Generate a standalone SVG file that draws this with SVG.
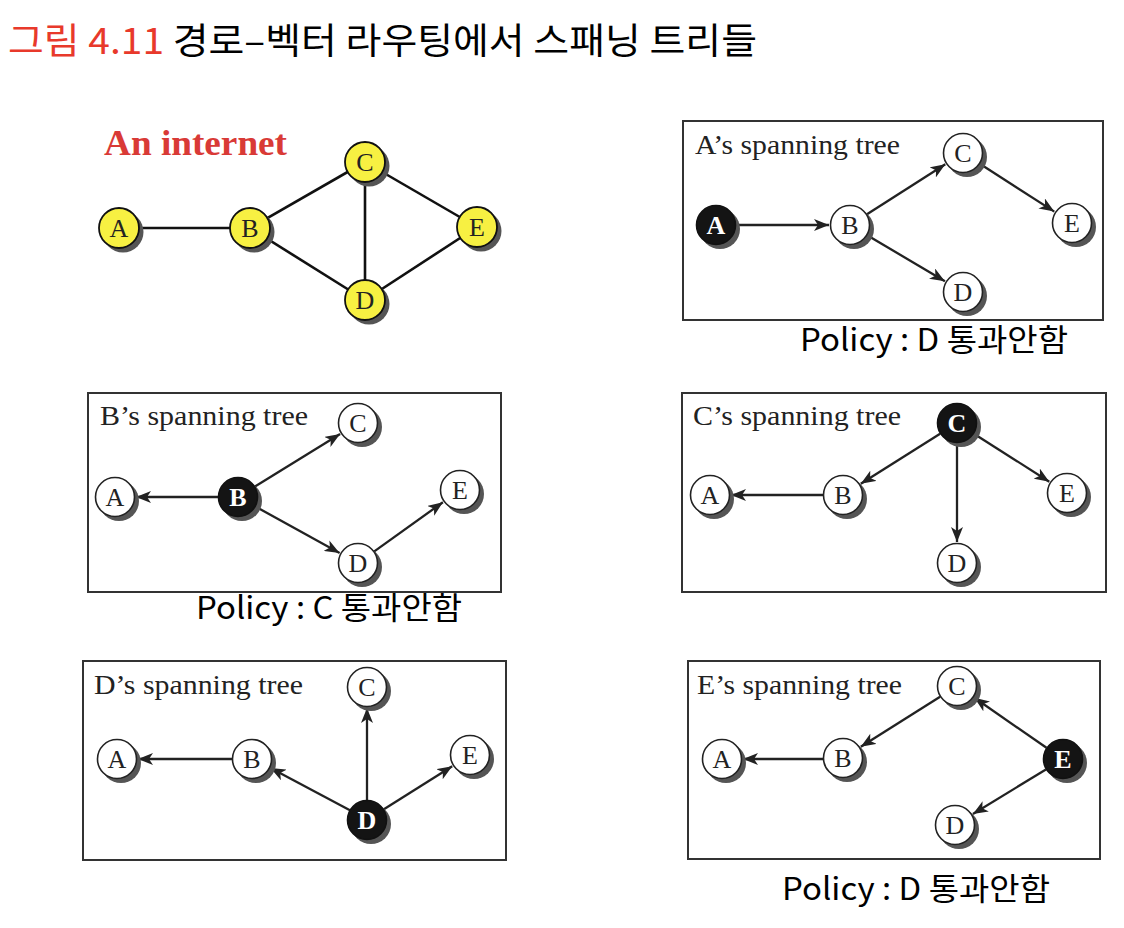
<svg xmlns="http://www.w3.org/2000/svg" width="1124" height="928" viewBox="0 0 1124 928">
<style>
.title{font-family:"Noto Sans CJK KR","Noto Sans",sans-serif;font-size:36px}
.policy{font-family:"Noto Sans CJK KR","Noto Sans",sans-serif;font-size:31px;fill:#000}
.ptitle{font-family:"Liberation Serif","DejaVu Serif",serif;font-size:28px;fill:#222}
.box{fill:#fff;stroke:#333;stroke-width:2}
.sh{fill:#555}
.wn{fill:#fff;stroke:#222;stroke-width:1.6}
.yn{fill:#f7f042;stroke:#111;stroke-width:1.8}
.bn{fill:#141414;stroke:#111;stroke-width:1.6}
.lb{font-family:"Liberation Serif","DejaVu Serif",serif;font-size:26px;fill:#222;text-anchor:middle}
.lbw{font-family:"Liberation Serif","DejaVu Serif",serif;font-size:26px;font-weight:bold;fill:#fff;text-anchor:middle}
.edge{stroke:#111;stroke-width:2.6;fill:none}
.arr{stroke:#222;stroke-width:2.3;fill:none;marker-end:url(#ah)}
</style>
<defs>
<marker id="ah" markerUnits="userSpaceOnUse" markerWidth="15" markerHeight="12" refX="15" refY="6" orient="auto">
<path d="M0,0 L15,6 L0,12 L4,6 z" fill="#222"/>
</marker>
</defs>
<rect width="1124" height="928" fill="#fff"/>
<text x="8" y="54" class="title" textLength="749" lengthAdjust="spacingAndGlyphs"><tspan fill="#e8392b">그림 4.11</tspan><tspan fill="#000"> 경로–벡터 라우팅에서 스패닝 트리들</tspan></text>

<!-- An internet -->
<g id="internet">
<text x="104" y="155" font-family="Liberation Serif, serif" font-size="35" font-weight="bold" fill="#d93a36" textLength="183" lengthAdjust="spacingAndGlyphs">An internet</text>
<g id="internet-edges">
<line class="edge" x1="119" y1="228" x2="250" y2="228"/>
<line class="edge" x1="250" y1="228" x2="365" y2="162"/>
<line class="edge" x1="250" y1="228" x2="365" y2="300"/>
<line class="edge" x1="365" y1="162" x2="365" y2="300"/>
<line class="edge" x1="365" y1="162" x2="477" y2="227"/>
<line class="edge" x1="365" y1="300" x2="477" y2="227"/>
</g>
<g id="i-A"><circle class="sh" cx="123" cy="232" r="20.5"/><circle class="yn" cx="119" cy="228" r="20"/><text class="lb" x="119" y="237">A</text></g>
<g id="i-B"><circle class="sh" cx="254" cy="232" r="20.5"/><circle class="yn" cx="250" cy="228" r="20"/><text class="lb" x="250" y="237">B</text></g>
<g id="i-C"><circle class="sh" cx="369" cy="166" r="20.5"/><circle class="yn" cx="365" cy="162" r="20"/><text class="lb" x="365" y="171">C</text></g>
<g id="i-D"><circle class="sh" cx="369" cy="304" r="20.5"/><circle class="yn" cx="365" cy="300" r="20"/><text class="lb" x="365" y="309">D</text></g>
<g id="i-E"><circle class="sh" cx="481" cy="231" r="20.5"/><circle class="yn" cx="477" cy="227" r="20"/><text class="lb" x="477" y="236">E</text></g>
</g>

<!-- Panel A -->
<g id="panelA">
<rect class="box" x="683" y="121" width="420" height="199"/>
<text class="ptitle" x="695" y="154" textLength="205" lengthAdjust="spacingAndGlyphs">A’s spanning tree</text>
<g id="connA">
<line class="arr" x1="736" y1="225" x2="829" y2="225"/>
<line class="arr" x1="867" y1="214.3" x2="945.3" y2="164.3"/>
<line class="arr" x1="867.2" y1="235.2" x2="944.9" y2="281.3"/>
<line class="arr" x1="979.8" y1="163.8" x2="1054.3" y2="211.6"/>
</g>
<g id="a-A"><circle class="sh" cx="720" cy="229" r="20"/><circle class="bn" cx="716" cy="225" r="19.5"/><text class="lbw" x="716" y="234">A</text></g>
<g id="a-B"><circle class="sh" cx="854" cy="229" r="20"/><circle class="wn" cx="850" cy="225" r="19.5"/><text class="lb" x="850" y="234">B</text></g>
<g id="a-C"><circle class="sh" cx="967" cy="157" r="20"/><circle class="wn" cx="963" cy="153" r="19.5"/><text class="lb" x="963" y="162">C</text></g>
<g id="a-D"><circle class="sh" cx="967" cy="296" r="20"/><circle class="wn" cx="963" cy="292" r="19.5"/><text class="lb" x="963" y="301">D</text></g>
<g id="a-E"><circle class="sh" cx="1076" cy="227" r="20"/><circle class="wn" cx="1072" cy="223" r="19.5"/><text class="lb" x="1072" y="232">E</text></g>
<text class="policy" x="800" y="351" textLength="268" lengthAdjust="spacingAndGlyphs">Policy : D 통과안함</text>
</g>

<!-- Panel B -->
<g id="panelB">
<rect class="box" x="88" y="393" width="413" height="199"/>
<text class="ptitle" x="100" y="425" textLength="208" lengthAdjust="spacingAndGlyphs">B’s spanning tree</text>
<g id="connB">
<line class="arr" x1="218" y1="497" x2="136" y2="497"/>
<line class="arr" x1="255" y1="486.5" x2="340.1" y2="434"/>
<line class="arr" x1="255.5" y1="506.6" x2="339.6" y2="552.9"/>
<line class="arr" x1="374.3" y1="551.4" x2="442.9" y2="502.2"/>
</g>
<g id="b-A"><circle class="sh" cx="119" cy="501" r="20"/><circle class="wn" cx="115" cy="497" r="19.5"/><text class="lb" x="115" y="506">A</text></g>
<g id="b-B"><circle class="sh" cx="242" cy="501" r="20"/><circle class="bn" cx="238" cy="497" r="19.5"/><text class="lbw" x="238" y="506">B</text></g>
<g id="b-C"><circle class="sh" cx="362" cy="427" r="20"/><circle class="wn" cx="358" cy="423" r="19.5"/><text class="lb" x="358" y="432">C</text></g>
<g id="b-D"><circle class="sh" cx="362" cy="567" r="20"/><circle class="wn" cx="358" cy="563" r="19.5"/><text class="lb" x="358" y="572">D</text></g>
<g id="b-E"><circle class="sh" cx="464" cy="494" r="20"/><circle class="wn" cx="460" cy="490" r="19.5"/><text class="lb" x="460" y="499">E</text></g>
<text class="policy" x="196" y="619" textLength="266" lengthAdjust="spacingAndGlyphs">Policy : C 통과안함</text>
</g>

<!-- Panel C -->
<g id="panelC">
<rect class="box" x="682" y="393" width="424" height="199"/>
<text class="ptitle" x="693" y="425" textLength="208" lengthAdjust="spacingAndGlyphs">C’s spanning tree</text>
<g id="connC">
<line class="arr" x1="940.1" y1="433.7" x2="860.8" y2="483.8"/>
<line class="arr" x1="823" y1="495" x2="731" y2="495"/>
<line class="arr" x1="957" y1="443" x2="957" y2="542"/>
<line class="arr" x1="973.9" y1="433.7" x2="1049.3" y2="481.7"/>
</g>
<g id="c-A"><circle class="sh" cx="714" cy="499" r="20"/><circle class="wn" cx="710" cy="495" r="19.5"/><text class="lb" x="710" y="504">A</text></g>
<g id="c-B"><circle class="sh" cx="847" cy="499" r="20"/><circle class="wn" cx="843" cy="495" r="19.5"/><text class="lb" x="843" y="504">B</text></g>
<g id="c-C"><circle class="sh" cx="961" cy="427" r="20"/><circle class="bn" cx="957" cy="423" r="19.5"/><text class="lbw" x="957" y="432">C</text></g>
<g id="c-D"><circle class="sh" cx="961" cy="567" r="20"/><circle class="wn" cx="957" cy="563" r="19.5"/><text class="lb" x="957" y="572">D</text></g>
<g id="c-E"><circle class="sh" cx="1071" cy="497" r="20"/><circle class="wn" cx="1067" cy="493" r="19.5"/><text class="lb" x="1067" y="502">E</text></g>
</g>

<!-- Panel D -->
<g id="panelD">
<rect class="box" x="83" y="661" width="423" height="199"/>
<text class="ptitle" x="94" y="694" textLength="209" lengthAdjust="spacingAndGlyphs">D’s spanning tree</text>
<g id="connD">
<line class="arr" x1="350.4" y1="810.6" x2="270.5" y2="767.9"/>
<line class="arr" x1="232" y1="759" x2="138" y2="759"/>
<line class="arr" x1="367" y1="800" x2="367" y2="708"/>
<line class="arr" x1="383.9" y1="809.3" x2="452.2" y2="766.2"/>
</g>
<g id="d-A"><circle class="sh" cx="121" cy="763" r="20"/><circle class="wn" cx="117" cy="759" r="19.5"/><text class="lb" x="117" y="768">A</text></g>
<g id="d-B"><circle class="sh" cx="256" cy="763" r="20"/><circle class="wn" cx="252" cy="759" r="19.5"/><text class="lb" x="252" y="768">B</text></g>
<g id="d-C"><circle class="sh" cx="371" cy="691" r="20"/><circle class="wn" cx="367" cy="687" r="19.5"/><text class="lb" x="367" y="696">C</text></g>
<g id="d-D"><circle class="sh" cx="371" cy="824" r="20"/><circle class="bn" cx="367" cy="820" r="19.5"/><text class="lbw" x="367" y="829">D</text></g>
<g id="d-E"><circle class="sh" cx="474" cy="759" r="20"/><circle class="wn" cx="470" cy="755" r="19.5"/><text class="lb" x="470" y="764">E</text></g>
</g>

<!-- Panel E -->
<g id="panelE">
<rect class="box" x="688" y="661" width="412" height="198"/>
<text class="ptitle" x="697" y="694" textLength="205" lengthAdjust="spacingAndGlyphs">E’s spanning tree</text>
<g id="connE">
<line class="arr" x1="1046.5" y1="747.8" x2="974.4" y2="697.8"/>
<line class="arr" x1="940.1" y1="696.7" x2="860.8" y2="746.8"/>
<line class="arr" x1="823" y1="759" x2="743" y2="759"/>
<line class="arr" x1="1045.9" y1="769.4" x2="972.9" y2="814.1"/>
</g>
<g id="e-A"><circle class="sh" cx="726" cy="763" r="20"/><circle class="wn" cx="722" cy="759" r="19.5"/><text class="lb" x="722" y="768">A</text></g>
<g id="e-B"><circle class="sh" cx="847" cy="762" r="20"/><circle class="wn" cx="843" cy="758" r="19.5"/><text class="lb" x="843" y="767">B</text></g>
<g id="e-C"><circle class="sh" cx="961" cy="690" r="20"/><circle class="wn" cx="957" cy="686" r="19.5"/><text class="lb" x="957" y="695">C</text></g>
<g id="e-D"><circle class="sh" cx="959" cy="829" r="20"/><circle class="wn" cx="955" cy="825" r="19.5"/><text class="lb" x="955" y="834">D</text></g>
<g id="e-E"><circle class="sh" cx="1067" cy="763" r="20"/><circle class="bn" cx="1063" cy="759" r="19.5"/><text class="lbw" x="1063" y="768">E</text></g>
<text class="policy" x="782" y="900" textLength="268" lengthAdjust="spacingAndGlyphs">Policy : D 통과안함</text>
</g>
</svg>
